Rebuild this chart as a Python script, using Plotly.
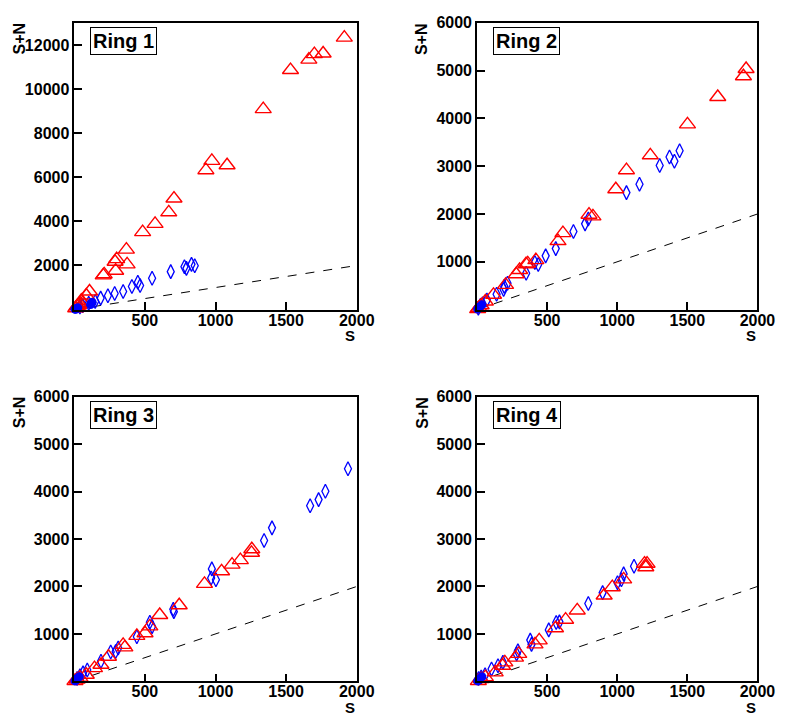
import plotly.graph_objects as go

# ---------------- data ----------------
ring_names = ["Ring 1", "Ring 2", "Ring 3", "Ring 4"]

r1_red_s = [1912, 1762, 1700, 1661, 1531, 1338, 1082, 974, 932, 706, 669, 572, 484, 369, 374, 300, 289, 293, 212, 205, 108, 85, 50, 38, 20, 10, 30, 60]
r1_red_v = [12330, 11610, 11580, 11330, 10860, 9090, 6545, 6740, 6320, 5035, 4410, 3885, 3510, 2720, 2050, 2290, 2170, 1760, 1600, 1550, 820, 640, 400, 260, 150, 60, 200, 300]
r1_blue_s = [853, 830, 794, 780, 683, 551, 466, 450, 408, 346, 286, 238, 187, 148, 102, 60, 40]
r1_blue_v = [1990, 2050, 1870, 1940, 1720, 1420, 1090, 1240, 1050, 820, 730, 630, 520, 370, 290, 180, 120]
r1_fill_s = [127, 115, 120, 16, 5, 25, 10]
r1_fill_v = [330, 230, 280, 45, 20, 80, 10]

r2_red_s = [1919, 1900, 1717, 1501, 1236, 1066, 990, 827, 799, 613, 578, 420, 362, 350, 304, 280, 204, 118, 60, 30, 15, 5]
r2_red_v = [5034, 4883, 4448, 3876, 3228, 2917, 2518, 1951, 1986, 1600, 1434, 1035, 966, 950, 828, 740, 517, 310, 170, 90, 40, 10]
r2_blue_s = [1445, 1408, 1373, 1303, 1159, 1066, 794, 771, 688, 562, 490, 437, 413, 351, 218, 195, 190, 140, 71, 25, 40, 10]
r2_blue_v = [3325, 3103, 3193, 3014, 2621, 2448, 1897, 1794, 1635, 1276, 1124, 945, 987, 759, 552, 485, 420, 320, 200, 90, 120, 30]
r2_fill_s = [20, 10, 35, 5]
r2_fill_v = [60, 25, 100, 10]

r3_red_s = [1257, 1255, 1176, 1117, 1043, 922, 743, 605, 501, 443, 535, 358, 346, 242, 189, 143, 85, 40, 20, 5]
r3_red_v = [2785, 2710, 2555, 2460, 2320, 2055, 1605, 1400, 1015, 960, 1160, 718, 770, 520, 350, 280, 140, 80, 40, 10]
r3_blue_s = [1938, 1778, 1730, 1670, 1400, 1344, 974, 969, 1003, 701, 705, 535, 551, 443, 311, 293, 258, 189, 92, 62, 40, 20]
r3_blue_v = [4480, 4005, 3830, 3700, 3235, 2970, 2370, 2180, 2140, 1520, 1470, 1245, 1155, 940, 703, 630, 620, 426, 240, 180, 120, 60]
r3_fill_s = [20, 10, 35, 5]
r3_fill_v = [60, 25, 100, 10]

r4_red_s = [1213, 1195, 1204, 1046, 965, 907, 715, 632, 560, 444, 414, 298, 275, 199, 183, 130, 60, 30, 10]
r4_red_v = [2480, 2480, 2405, 2150, 1985, 1810, 1495, 1300, 1120, 865, 780, 580, 500, 400, 330, 190, 90, 50, 10]
r4_blue_s = [1120, 1046, 1030, 1002, 896, 794, 588, 565, 512, 380, 389, 292, 283, 185, 150, 104, 58, 12, 30]
r4_blue_v = [2425, 2265, 2140, 2080, 1870, 1640, 1255, 1240, 1085, 870, 780, 645, 580, 400, 330, 260, 140, 60, 90]
r4_fill_s = [20, 10, 35, 5]
r4_fill_v = [60, 25, 100, 10]

ref_s = [0, 2000]
ref_v = [0, 2000]

y_max = [13000, 6000, 6000, 6000]
y_ticks = [[2000, 4000, 6000, 8000, 10000, 12000],
           [1000, 2000, 3000, 4000, 5000, 6000],
           [1000, 2000, 3000, 4000, 5000, 6000],
           [1000, 2000, 3000, 4000, 5000, 6000]]
x_ticks = [500, 1000, 1500, 2000]

panels = [
    (r1_red_s, r1_red_v, r1_blue_s, r1_blue_v, r1_fill_s, r1_fill_v),
    (r2_red_s, r2_red_v, r2_blue_s, r2_blue_v, r2_fill_s, r2_fill_v),
    (r3_red_s, r3_red_v, r3_blue_s, r3_blue_v, r3_fill_s, r3_fill_v),
    (r4_red_s, r4_red_v, r4_blue_s, r4_blue_v, r4_fill_s, r4_fill_v),
]

# ---------------- layout geometry ----------------
W, H = 795, 717
x_doms = [[76 / W, 365 / W], [488 / W, 775 / W], [76 / W, 365 / W], [488 / W, 775 / W]]
y_doms = [[1 - 305 / H, 1 - 15 / H], [1 - 305 / H, 1 - 15 / H],
          [1 - 681 / H, 1 - 393 / H], [1 - 681 / H, 1 - 393 / H]]

FONT = "Liberation Sans, Arial, sans-serif"
fig = go.Figure()
layout = dict(width=W, height=H, margin=dict(l=0, r=0, t=0, b=0),
              paper_bgcolor="white", plot_bgcolor="white", showlegend=False,
              font=dict(family=FONT, color="black"))
annotations = []

for i, (rs, rv, bs, bv, fs, fv) in enumerate(panels):
    xa = "x" if i == 0 else f"x{i+1}"
    ya = "y" if i == 0 else f"y{i+1}"
    fig.add_trace(go.Scatter(x=ref_s, y=ref_v, mode="lines", xaxis=xa, yaxis=ya,
                             line=dict(color="black", width=1, dash="dash")))
    fig.add_trace(go.Scatter(x=bs, y=bv, mode="markers", xaxis=xa, yaxis=ya, cliponaxis=False,
                             marker=dict(symbol="diamond-tall-open", size=10, color="blue",
                                         line=dict(width=1.3, color="blue"))))
    fig.add_trace(go.Scatter(x=rs, y=rv, mode="markers", xaxis=xa, yaxis=ya, cliponaxis=False,
                             marker=dict(symbol="triangle-up-open", size=14, color="red",
                                         line=dict(width=1.4, color="red"))))
    fig.add_trace(go.Scatter(x=fs, y=fv, mode="markers", xaxis=xa, yaxis=ya, cliponaxis=False,
                             marker=dict(symbol="circle", size=9, color="blue")))

    axis_common = dict(showgrid=False, zeroline=False, showline=True, linecolor="black",
                       linewidth=1.5, mirror=True, tickwidth=1.5, tickcolor="black",
                       ticks="inside", ticklen=8,
                       tickfont=dict(family=FONT, size=16, color="black"))
    layout["xaxis" if i == 0 else f"xaxis{i+1}"] = dict(
        axis_common, domain=x_doms[i], range=[0, 2000], tickvals=x_ticks,
        ticktext=[f"<b>{t}</b>" for t in x_ticks], ticklabelstandoff=-5, anchor=ya)
    layout["yaxis" if i == 0 else f"yaxis{i+1}"] = dict(
        axis_common, domain=y_doms[i], range=[0, y_max[i]], tickvals=y_ticks[i],
        ticktext=[f"<b>{t}</b>" for t in y_ticks[i]], anchor=xa)

    x0p, x1p = x_doms[i]
    y0p, y1p = y_doms[i]
    # ring label
    annotations.append(dict(text="<b>" + ring_names[i] + "</b>", xref="paper", yref="paper",
                            x=x0p + 16 / W, y=y1p - 4 / H, xanchor="left", yanchor="top",
                            showarrow=False, font=dict(family=FONT, size=20, color="black"),
                            bordercolor="black", borderwidth=1, borderpad=2, bgcolor="white"))
    # y title
    annotations.append(dict(text="<b>S+N</b>", xref="paper", yref="paper",
                            x=x0p - 56 / W, y=y1p + 2 / H, xanchor="center", yanchor="top",
                            textangle=-90, showarrow=False,
                            font=dict(family=FONT, size=16, color="black")))
    # x title
    annotations.append(dict(text="<b>S</b>", xref="paper", yref="paper",
                            x=x1p - 7 / W, y=y0p - 36 / H, xanchor="center", yanchor="bottom",
                            showarrow=False, borderpad=0,
                            font=dict(family=FONT, size=15, color="black")))

layout["annotations"] = annotations
fig.update_layout(**layout)
fig.write_html("out.html", config={"displayModeBar": False},
               post_script="document.body.style.margin='0';document.body.style.overflow='hidden';")
